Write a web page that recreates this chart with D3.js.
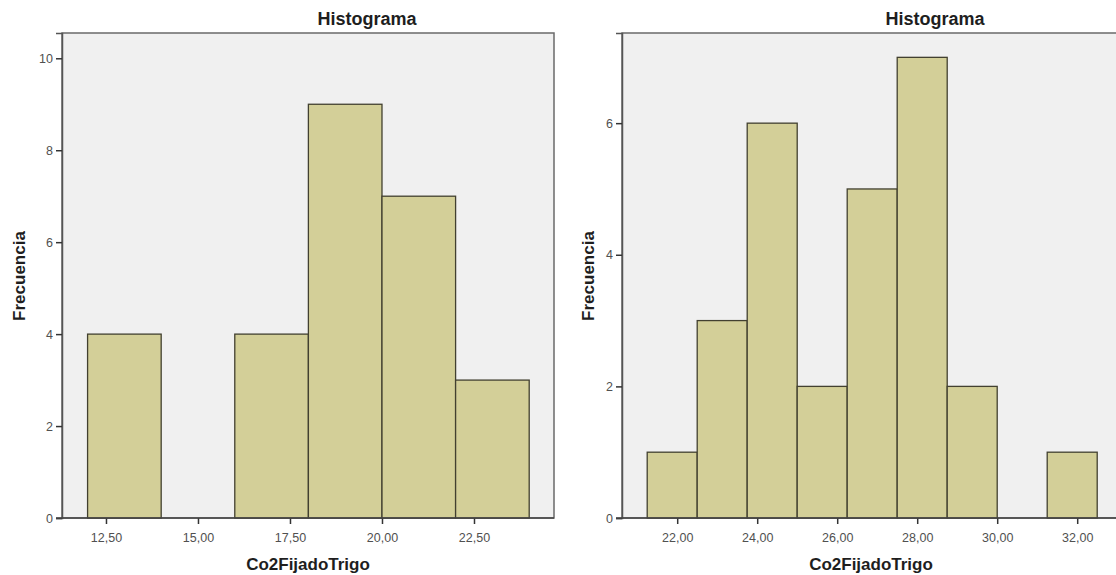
<!DOCTYPE html>
<html>
<head>
<meta charset="utf-8">
<script src="https://cdn.jsdelivr.net/npm/d3@7"></script>
<style>
  html, body { margin: 0; padding: 0; background: #fff; }
  svg { display: block; font-family: "Liberation Sans", Arial, sans-serif; }
</style>
</head>
<body>
<svg id="chart" width="1116" height="575"></svg>
<script>
// Left histogram: bin edges (width 2) and counts
const leftBinStarts = [12, 14, 16, 18, 20, 22];
const leftBinWidth = 2;
const leftCounts = [4, 0, 4, 9, 7, 3];
const leftXTicks = [12.5, 15, 17.5, 20, 22.5];
const leftYTicks = [0, 2, 4, 6, 8, 10];

// Right histogram: bin edges (width 1.25) and counts
const rightBinStarts = [21.25, 22.5, 23.75, 25, 26.25, 27.5, 28.75, 30, 31.25];
const rightBinWidth = 1.25;
const rightCounts = [1, 3, 6, 2, 5, 7, 2, 0, 1];
const rightXTicks = [22, 24, 26, 28, 30, 32];
const rightYTicks = [0, 2, 4, 6];

const titleText = "Histograma";
const xLabel = "Co2FijadoTrigo";
const yLabel = "Frecuencia";

const svg = d3.select("#chart");
const fmt = v => d3.format(".2f")(v).replace(".", ",");

function histogram(cfg) {
  const g = svg.append("g");
  const x = d3.scaleLinear().domain(cfg.xDomain).range([cfg.left, cfg.right]);
  const y = d3.scaleLinear().domain(cfg.yDomain).range([cfg.bottom, cfg.top]);

  // plot background
  g.append("rect")
    .attr("x", cfg.left).attr("y", cfg.top)
    .attr("width", cfg.right - cfg.left).attr("height", cfg.bottom - cfg.top)
    .attr("fill", "#f0f0f0")
    .attr("stroke", "#6a6a6a").attr("stroke-width", 1.5);

  // bars
  const bins = cfg.starts.map((s, i) => ({ x0: s, x1: s + cfg.width, n: cfg.counts[i] }))
    .filter(d => d.n > 0);
  g.selectAll("rect.bar").data(bins).join("rect")
    .attr("class", "bar")
    .attr("x", d => x(d.x0))
    .attr("y", d => y(d.n))
    .attr("width", d => x(d.x1) - x(d.x0))
    .attr("height", d => y(0) - y(d.n))
    .attr("fill", "#d3cf98")
    .attr("stroke", "#424030").attr("stroke-width", 1.3);

  // y axis
  const yAxis = d3.axisLeft(y).tickValues(cfg.yTicks).tickSize(6).tickPadding(3).tickFormat(d3.format("d"));
  const ya = g.append("g").attr("transform", `translate(${cfg.left},0)`).call(yAxis);
  ya.select(".domain").attr("stroke", "#555").attr("stroke-width", 1.5);
  ya.selectAll(".tick line").attr("stroke", "#333").attr("stroke-width", 1.5);
  ya.selectAll(".tick text").attr("fill", "#505050").style("font-size", "12.5px");

  // x axis
  const xAxis = d3.axisBottom(x).tickValues(cfg.xTicks).tickSize(6).tickPadding(9).tickFormat(fmt);
  const xa = g.append("g").attr("transform", `translate(0,${cfg.bottom})`).call(xAxis);
  xa.select(".domain").remove();
  g.append("line")
    .attr("x1", cfg.left - 6).attr("x2", cfg.right)
    .attr("y1", cfg.bottom).attr("y2", cfg.bottom)
    .attr("stroke", "#444").attr("stroke-width", 1.5);
  xa.selectAll(".tick line").attr("stroke", "#333").attr("stroke-width", 1.5);
  xa.selectAll(".tick text").attr("fill", "#505050").style("font-size", "12.5px");

  // title and axis labels
  g.append("text").attr("x", cfg.titleX).attr("y", 25)
    .attr("text-anchor", "middle").attr("font-weight", "bold")
    .style("font-size", "18px").attr("fill", "#1e1e1e").text(titleText);
  g.append("text").attr("x", cfg.xLabelX).attr("y", 570)
    .attr("text-anchor", "middle").attr("font-weight", "bold")
    .style("font-size", "17px").attr("fill", "#1e1e1e").text(xLabel);
  g.append("text")
    .attr("transform", `translate(${cfg.yLabelX},276) rotate(-90)`)
    .attr("text-anchor", "middle").attr("font-weight", "bold")
    .style("font-size", "17px").attr("fill", "#1e1e1e").text(yLabel);
}

histogram({
  left: 62, right: 554, top: 33, bottom: 518,
  xDomain: [11.305, 24.674], yDomain: [0, 10.55],
  starts: leftBinStarts, width: leftBinWidth, counts: leftCounts,
  xTicks: leftXTicks, yTicks: leftYTicks,
  titleX: 367, xLabelX: 308, yLabelX: 25
});

histogram({
  left: 622, right: 1120, top: 33, bottom: 518,
  xDomain: [20.62, 33.07], yDomain: [0, 7.37],
  starts: rightBinStarts, width: rightBinWidth, counts: rightCounts,
  xTicks: rightXTicks, yTicks: rightYTicks,
  titleX: 935, xLabelX: 871, yLabelX: 594
});
</script>
</body>
</html>
